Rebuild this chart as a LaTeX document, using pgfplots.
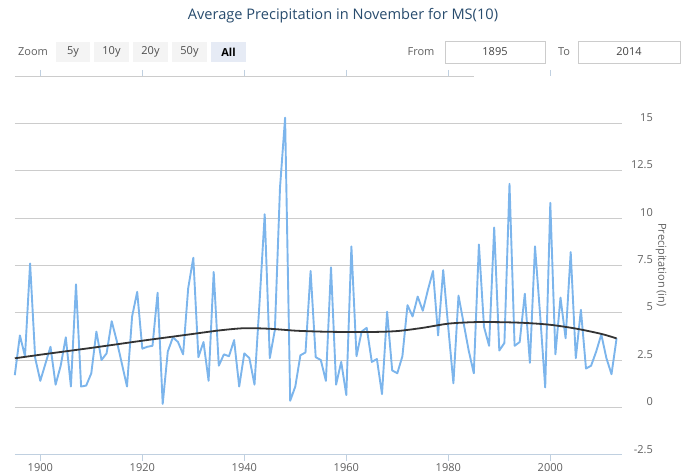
\documentclass[border=0pt]{standalone}
\usepackage{pgfplots}
\pgfplotsset{compat=1.18}
\usepackage{fontspec}
\setmainfont{Open Sans}
\definecolor{series}{HTML}{7CB5EC}
\definecolor{trend}{HTML}{333333}
\definecolor{gridc}{HTML}{CCCCCC}
\definecolor{axisc}{HTML}{C0D0E0}
\definecolor{labc}{HTML}{606060}
\definecolor{titlec}{HTML}{274B6D}
\definecolor{btn}{HTML}{F4F4F4}
\definecolor{btnsel}{HTML}{E6EBF5}
\definecolor{boxc}{HTML}{CCCCCC}
\begin{document}
\begin{tikzpicture}
\path[use as bounding box] (-14.8pt,-21.3pt) rectangle (671.2pt,454.7pt);
\begin{axis}[
  at={(0,0)}, anchor=south west, scale only axis,
  width=606.9pt, height=378.7pt,
  xmin=1895, xmax=2014, ymin=-2.5, ymax=17.5,
  axis line style={draw=none},
  xtick={1900,1920,1940,1960,1980,2000},
  xticklabels={1900,1920,1940,1960,1980,2000},
  ytick={-2.5,0,2.5,5,7.5,10,12.5,15},
  yticklabels={-2.5,0,2.5,5,7.5,10,12.5,15},
  ymajorgrids, major grid style={gridc, line width=0.9pt},
  tick align=outside, major tick length=6pt,
  xtick style={draw=axisc, line width=0.9pt},
  ytick style={draw=none},
  yticklabel pos=right,
  ticklabel style={font=\fontsize{11}{13}\selectfont, text=labc},
  xticklabel style={inner sep=0pt, anchor=north, yshift=-3pt},
  yticklabel style={inner sep=0pt, anchor=east, xshift=25.3pt, yshift=5.6pt},
  clip=false,
]
\draw[axisc, line width=1pt] (axis cs:1895,-2.5) -- (axis cs:2014,-2.5);
\addplot[series, line width=1.9pt, line join=round] coordinates {
(1895,1.7)(1896,3.8)(1897,2.7)(1898,7.6)(1899,2.6)(1900,1.4)(1901,2.3)(1902,3.2)(1903,1.2)(1904,2.2)
(1905,3.7)(1906,1.1)(1907,6.5)(1908,1.1)(1909,1.15)(1910,1.8)(1911,4.0)(1912,2.5)(1913,2.85)(1914,4.55)
(1915,3.5)(1916,2.3)(1917,1.1)(1918,4.8)(1919,6.1)(1920,3.1)(1921,3.2)(1922,3.25)(1923,6.05)(1924,0.18)
(1925,2.95)(1926,3.7)(1927,3.45)(1928,2.8)(1929,6.3)(1930,7.9)(1931,2.65)(1932,3.45)(1933,1.4)(1934,7.15)
(1935,2.2)(1936,2.8)(1937,2.7)(1938,3.55)(1939,1.1)(1940,2.85)(1941,2.6)(1942,1.2)(1943,5.6)(1944,10.2)
(1945,2.6)(1946,4.1)(1947,11.6)(1948,15.3)(1949,0.35)(1950,1.1)(1951,2.75)(1952,2.9)(1953,7.2)(1954,2.65)
(1955,2.5)(1956,1.4)(1957,7.4)(1958,1.2)(1959,2.4)(1960,0.65)(1961,8.5)(1962,2.7)(1963,4.0)(1964,4.2)
(1965,2.4)(1966,2.55)(1967,0.7)(1968,5.05)(1969,1.95)(1970,1.8)(1971,2.7)(1972,5.4)(1973,4.8)(1974,5.85)
(1975,5.1)(1976,6.2)(1977,7.2)(1978,3.8)(1979,7.25)(1980,4.2)(1981,1.27)(1982,5.9)(1983,4.45)(1984,3.0)
(1985,1.8)(1986,8.6)(1987,4.25)(1988,3.25)(1989,9.5)(1990,3.0)(1991,3.4)(1992,11.8)(1993,3.25)(1994,3.45)
(1995,6.0)(1996,2.35)(1997,8.5)(1998,4.9)(1999,1.05)(2000,10.8)(2001,2.8)(2002,5.8)(2003,3.65)(2004,8.2)
(2005,2.6)(2006,5.15)(2007,2.05)(2008,2.2)(2009,2.95)(2010,3.85)(2011,2.6)(2012,1.75)(2013,3.65)
};
\addplot[trend, line width=1.8pt, smooth] coordinates {
(1895,2.59)(1900,2.78)(1905,2.96)(1910,3.14)(1915,3.33)(1920,3.52)(1925,3.70)(1930,3.88)(1935,4.06)
(1940,4.18)(1945,4.15)(1950,4.05)(1955,4.00)(1960,3.98)(1965,3.98)(1970,4.03)(1975,4.20)(1980,4.42)
(1985,4.50)(1990,4.50)(1995,4.46)(2000,4.36)(2005,4.16)(2010,3.88)(2013,3.64)
};
\end{axis}
\begin{scope}[shift={(-14.8pt,454.7pt)}, x=1pt, y=-1pt]
  \draw[gridc, line width=0.9pt] (14.8,76) -- (474,76);
  \node[text=titlec, font=\fontsize{14.6}{17}\selectfont] at (343,16) {Average Precipitation in November for MS(10)};
  \node[text=labc, font=\fontsize{11}{13}\selectfont] at (661,265) [rotate=-90] {Precipitation (in)};
  % range selector
  \node[text=labc, font=\fontsize{11}{13}\selectfont] at (33,52) {Zoom};
  \fill[btn] (56,42) rectangle (90,62);
  \fill[btn] (94,42) rectangle (129,62);
  \fill[btn] (133,42) rectangle (168,62);
  \fill[btn] (172,42) rectangle (207,62);
  \fill[btnsel] (211,42) rectangle (246,62);
  \node[text=labc!80!black, font=\fontsize{11}{13}\selectfont] at (73,52) {5y};
  \node[text=labc!80!black, font=\fontsize{11}{13}\selectfont] at (111.5,52) {10y};
  \node[text=labc!80!black, font=\fontsize{11}{13}\selectfont] at (150.5,52) {20y};
  \node[text=labc!80!black, font=\fontsize{11}{13}\selectfont] at (189.5,52) {50y};
  \node[text=black, font=\fontsize{11}{13}\selectfont\bfseries] at (228.5,52) {All};
  \node[text=labc, font=\fontsize{11}{13}\selectfont] at (421,52) {From};
  \draw[boxc, line width=0.8pt] (445,41) rectangle (545,63);
  \node[text=labc!70!black, font=\fontsize{11}{13}\selectfont] at (495,52) {1895};
  \node[text=labc, font=\fontsize{11}{13}\selectfont] at (564,52) {To};
  \draw[boxc, line width=0.8pt] (578,41) rectangle (680,63);
  \node[text=labc!70!black, font=\fontsize{11}{13}\selectfont] at (629,52) {2014};
\end{scope}
\end{tikzpicture}
\end{document}
